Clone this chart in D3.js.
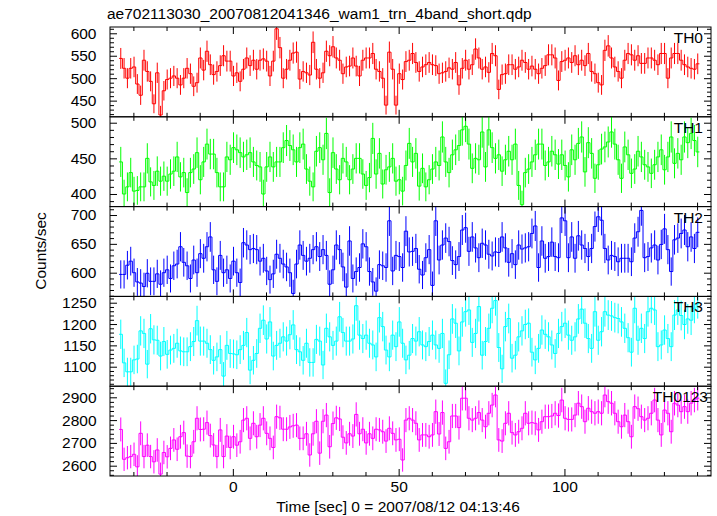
<!DOCTYPE html>
<html><head><meta charset="utf-8">
<script src="https://cdn.jsdelivr.net/npm/d3@7"></script>
<style>
body{margin:0;background:#fff}
svg text{font-family:"Liberation Sans",Arial,Helvetica,sans-serif;fill:#000}
</style>
</head><body>
<svg id="c" width="717" height="516"></svg>
<script>
// ---- data (counts/sec, 1-s bins) ----
const panelNames = ["TH0","TH1","TH2","TH3","TH0123"];
const TH0 = [544,522,500,522,525,487,462,540,515,493,443,512,418,472,497,500,505,500,485,500,
522,510,482,490,545,518,560,530,508,515,528,550,538,538,505,512,493,520,545,528,
540,520,540,543,538,505,538,610,568,500,520,540,556,558,498,515,512,507,580,520,
500,512,560,550,570,545,540,510,525,527,545,527,505,540,545,545,555,520,515,500,
440,558,520,440,510,497,537,540,555,535,515,525,530,535,530,528,510,512,515,523,
520,535,485,522,540,520,530,565,545,520,525,513,555,550,475,508,510,530,530,520,
525,540,535,520,527,520,510,522,528,552,552,545,495,537,540,545,535,550,530,540,
528,555,515,510,490,485,562,572,545,525,515,500,540,555,552,540,550,533,533,545,
545,540,530,555,555,500,545,555,555,540,530,525,522,520,532];
const TH1 = [445,400,410,430,404,405,410,410,450,417,412,432,418,425,418,428,432,452,424,430,
402,430,435,458,420,445,470,456,456,430,410,410,452,448,465,462,458,452,455,458,
445,440,438,400,438,452,438,445,445,465,475,468,462,445,465,470,435,418,410,460,
465,448,485,402,458,435,420,450,445,420,435,450,450,428,412,423,478,428,457,414,
434,438,450,418,420,404,440,471,445,457,411,436,410,420,435,445,440,480,445,430,
455,462,468,490,495,470,436,450,448,487,438,490,465,450,455,432,448,460,448,470,
412,385,430,435,445,455,470,470,440,445,460,455,442,455,440,424,462,448,471,480,
431,472,457,422,441,463,466,473,487,470,448,422,466,455,429,435,460,452,441,438,
429,441,452,462,434,452,480,443,457,448,480,472,485,475,459];
const TH2 = [597,597,613,620,600,584,582,576,599,585,585,598,580,600,605,590,612,615,645,618,
612,590,622,600,633,625,645,662,605,585,630,600,605,590,620,600,583,652,648,640,
642,640,620,625,603,588,598,632,625,615,610,600,564,615,648,630,620,625,640,645,
628,640,630,580,605,648,640,610,575,655,590,602,609,650,645,602,584,568,614,612,
609,690,603,630,628,609,672,636,637,642,606,596,626,640,578,690,622,648,660,654,
621,614,628,674,678,637,662,643,626,651,648,632,629,636,635,662,643,618,633,614,
648,641,643,645,668,681,609,655,625,628,653,628,626,695,690,626,662,625,664,648,
642,628,642,680,697,691,642,622,630,628,619,625,625,625,619,660,671,708,626,628,
643,648,622,649,676,640,602,657,660,668,674,645,662,642,670];
const TH3 = [1176,1109,1088,1088,1116,1118,1184,1178,1106,1189,1163,1162,1125,1159,1129,1139,1143,1155,1137,1135,
1135,1147,1159,1208,1160,1160,1155,1140,1115,1123,1140,1078,1150,1131,1130,1128,1140,1150,1180,1092,
1115,1131,1190,1209,1165,1205,1125,1150,1155,1170,1160,1175,1198,1140,1135,1115,1155,1110,1110,1164,
1160,1104,1190,1170,1150,1160,1217,1180,1160,1160,1165,1243,1174,1166,1174,1155,1151,1123,1215,1194,
1139,1123,1174,1147,1205,1155,1116,1127,1166,1160,1182,1151,1147,1159,1174,1151,1143,1178,1061,1128,
1212,1202,1137,1205,1229,1233,1157,1178,1241,1127,1159,1190,1237,1255,1145,1095,1194,1213,1120,1127,
1170,1184,1199,1202,1134,1116,1143,1186,1176,1170,1151,1131,1178,1194,1202,1174,1162,1170,1212,1235,
1202,1166,1143,1229,1162,1182,1229,1221,1219,1215,1213,1205,1190,1168,1134,1237,1162,1190,1166,1229,
1237,1233,1147,1151,1186,1166,1147,1221,1233,1220,1199,1212,1209,1237,1248];
const TH0123 = [2759,2628,2635,2640,2650,2595,2742,2640,2690,2640,2617,2669,2563,2658,2639,2676,2713,2672,2727,2745,
2642,2640,2705,2808,2759,2760,2789,2732,2691,2640,2757,2640,2730,2680,2727,2690,2705,2800,2808,2720,
2786,2727,2778,2808,2742,2720,2680,2815,2810,2760,2760,2770,2775,2778,2720,2720,2740,2647,2740,2795,
2655,2795,2822,2683,2785,2810,2805,2725,2700,2740,2730,2825,2740,2760,2700,2740,2720,2760,2757,2749,
2708,2764,2742,2713,2716,2625,2800,2808,2800,2786,2713,2735,2735,2727,2735,2837,2739,2833,2676,2705,
2818,2818,2767,2896,2896,2808,2800,2808,2833,2800,2771,2830,2866,2910,2713,2708,2786,2830,2745,2735,
2749,2764,2830,2786,2789,2786,2757,2793,2815,2815,2818,2830,2820,2888,2808,2803,2803,2822,2874,2859,
2793,2852,2837,2830,2837,2830,2910,2881,2874,2830,2793,2771,2822,2793,2727,2859,2850,2815,2800,2808,
2830,2888,2800,2735,2844,2830,2749,2874,2866,2837,2859,2837,2874,2888,2896];
const binStart = -33.8;   // centre of first bin [sec]
const binWidth = 1;       // sec
const xMajorTicks = [0, 50, 100];
const xMinorTicks = [-30,-20,-10,10,20,30,40,60,70,80,90,110,120,130,140];
const yMajor = [[450,500,550,600],[400,450,500],[600,650,700],[1100,1150,1200,1250],[2600,2700,2800,2900]];
const yMinorStep = [10,10,10,10,20];
const yDomains = [[414,614],[382.3,508.3],[558.9,714.6],[1054.3,1264.8],[2554.8,2948.7]];
const colors = ["#ff0000","#00ff00","#0000ff","#00ffff","#ff00ff"];
const series = [TH0, TH1, TH2, TH3, TH0123];

// ---- layout ----
const L = 110, R = 711, TOP = 27, BOT = 476;
const ph = (BOT - TOP) / 5;
const FS = 15.5;
const svg = d3.select("#c");
const x = d3.scaleLinear().domain([-37.05, 144.2]).range([L, R]);

svg.append("text").attr("x", 107).attr("y", 19).style("font-size", FS + "px")
  .text("ae702113030_20070812041346_wam1_trn_4band_short.qdp");

series.forEach((vals, p) => {
  const y0 = TOP + p * ph, y1 = y0 + ph;
  const y = d3.scaleLinear().domain(yDomains[p]).range([y1, y0]);
  const g = svg.append("g");
  const clipId = "clip" + p;
  svg.append("clipPath").attr("id", clipId).append("rect")
    .attr("x", L).attr("y", y0).attr("width", R - L).attr("height", ph);

  const data = vals.map((v, i) => ({t: binStart + i * binWidth, v: v, e: Math.sqrt(v)}));
  const plot = g.append("g").attr("clip-path", `url(#${clipId})`);
  // error bars
  plot.selectAll("line.err").data(data).join("line").attr("class", "err")
    .attr("x1", d => x(d.t)).attr("x2", d => x(d.t))
    .attr("y1", d => y(d.v - d.e)).attr("y2", d => y(d.v + d.e))
    .attr("stroke", colors[p]).attr("stroke-width", 1);
  // step line
  const pts = data.map(d => [d.t - binWidth / 2, d.v]);
  pts.push([data[data.length - 1].t + binWidth / 2, data[data.length - 1].v]);
  const line = d3.line().x(d => x(d[0])).y(d => y(d[1])).curve(d3.curveStepAfter);
  plot.append("path").attr("d", line(pts)).attr("fill", "none")
    .attr("stroke", colors[p]).attr("stroke-width", 1);

  // y minor ticks
  const [dmin, dmax] = yDomains[p];
  const minors = d3.range(Math.ceil(dmin / yMinorStep[p]) * yMinorStep[p], dmax, yMinorStep[p])
    .filter(v => !yMajor[p].includes(v));
  const axL = d3.axisLeft(y).tickValues(yMajor[p]).tickSizeInner(-7).tickSizeOuter(0).tickPadding(13.5).tickFormat(d3.format("d"));
  const axLm = d3.axisLeft(y).tickValues(minors).tickSizeInner(-4).tickSizeOuter(0).tickFormat("");
  const axR = d3.axisRight(y).tickValues(yMajor[p]).tickSizeInner(-7).tickSizeOuter(0).tickFormat("");
  const axRm = d3.axisRight(y).tickValues(minors).tickSizeInner(-4).tickSizeOuter(0).tickFormat("");
  [[axL, L], [axLm, L], [axR, R], [axRm, R]].forEach(([a, xx]) => {
    const ga = g.append("g").attr("transform", `translate(${xx},0)`).call(a);
    ga.select(".domain").remove();
  });
  // x ticks top and bottom (inward)
  const axTop = d3.axisBottom(x).tickValues(xMajorTicks).tickSizeInner(7).tickSizeOuter(0).tickFormat("");
  const axTopm = d3.axisBottom(x).tickValues(xMinorTicks).tickSizeInner(4).tickSizeOuter(0).tickFormat("");
  const axBot = d3.axisTop(x).tickValues(xMajorTicks).tickSizeInner(7).tickSizeOuter(0).tickFormat("");
  const axBotm = d3.axisTop(x).tickValues(xMinorTicks).tickSizeInner(4).tickSizeOuter(0).tickFormat("");
  [[axTop, y0], [axTopm, y0], [axBot, y1], [axBotm, y1]].forEach(([a, yy]) => {
    const ga = g.append("g").attr("transform", `translate(0,${yy})`).call(a);
    ga.select(".domain").remove();
  });
  g.selectAll(".tick text").style("font-size", FS + "px").attr("fill", "#000").style("font-family", '"Liberation Sans",Arial,sans-serif');
  g.selectAll(".tick line").attr("stroke", "#000");

  g.append("rect").attr("x", L).attr("y", y0).attr("width", R - L).attr("height", ph)
    .attr("fill", "none").attr("stroke", "#000").attr("stroke-width", 1);

  g.append("text").attr("x", p === 4 ? 708 : 703).attr("y", y0 + 16)
    .attr("text-anchor", "end").style("font-size", FS + "px").text(panelNames[p]);
});

// x tick labels
const axLab = d3.axisBottom(x).tickValues(xMajorTicks).tickSize(0).tickPadding(5).tickFormat(d3.format("d"));
const gl = svg.append("g").attr("transform", `translate(0,${BOT})`).call(axLab);
gl.select(".domain").remove();
gl.selectAll("text").style("font-size", FS + "px").attr("fill", "#000").style("font-family", '"Liberation Sans",Arial,sans-serif');

svg.append("text").attr("x", 398).attr("y", 512).attr("text-anchor", "middle")
  .style("font-size", FS + "px").text("Time [sec] 0 = 2007/08/12 04:13:46");
svg.append("text").attr("transform", "translate(46,251) rotate(-90)").attr("text-anchor", "middle")
  .style("font-size", FS + "px").text("Counts/sec");
</script>
</body></html>
